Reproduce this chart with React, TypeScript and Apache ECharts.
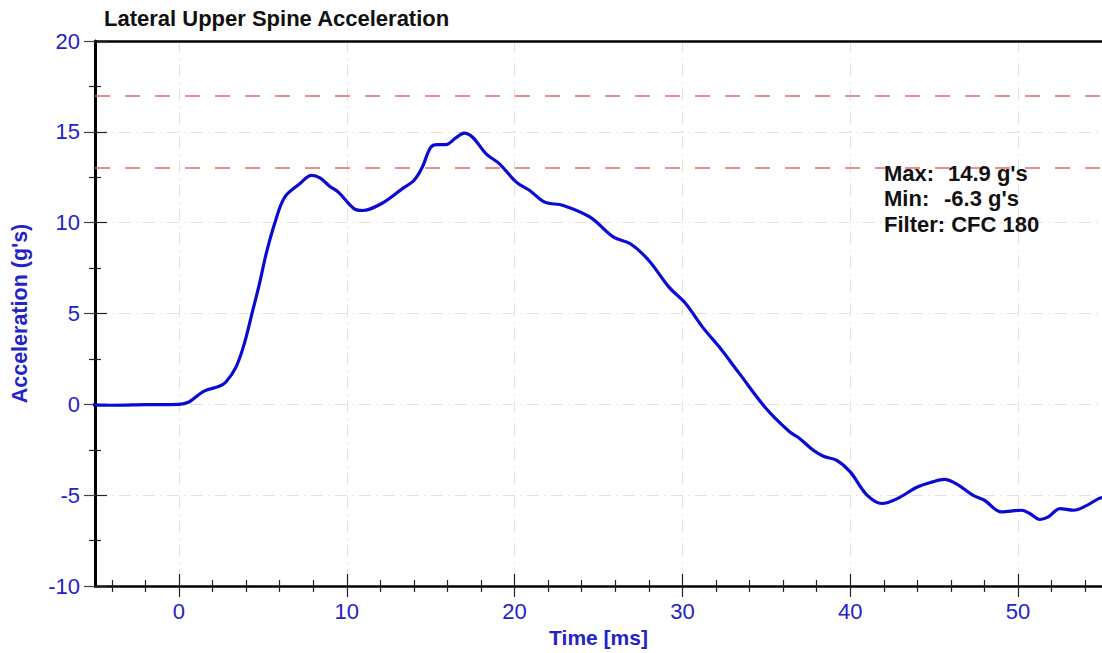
import React, { useEffect, useRef } from "react";
import * as echarts from "echarts";

const timeMs = [
  -5.3, -4, -2, 0, 0.6, 1.5, 2.4, 2.8, 3.4, 3.9, 4.4, 4.8, 5.2, 5.7, 6.3, 7.2, 7.9, 8.4, 9.0, 9.5,
  10.45, 10.95, 12.05, 13.3, 14.0, 14.5, 15.0, 15.4, 15.9, 16.5, 17.0, 17.5, 18.3, 19.1, 20.1, 20.9,
  21.8, 22.9, 24.5, 25.9, 26.9, 28.0, 29.2, 30.2, 31.2, 32.2, 33.4, 35.0, 36.4, 37.0, 37.8, 38.4,
  39.2, 40.0, 41.0, 41.9, 42.8, 44.0, 44.9, 45.6, 46.3, 47.3, 48.0, 49.0, 50.2, 50.7, 51.3, 51.8,
  52.5, 53.3, 54.1, 54.8, 55.2,
];
const accel = [
  -0.03, -0.05, -0.02, 0.0, 0.13, 0.73, 0.99, 1.23, 2.05, 3.35, 5.17, 6.64, 8.29, 9.94, 11.4, 12.14,
  12.6, 12.47, 11.99, 11.68, 10.76, 10.67, 11.04, 11.86, 12.32, 13.05, 14.15, 14.3, 14.3, 14.67,
  14.93, 14.7, 13.79, 13.24, 12.23, 11.77, 11.13, 10.95, 10.3, 9.2, 8.84, 7.92, 6.45, 5.54, 4.25,
  3.15, 1.69, -0.24, -1.52, -1.89, -2.53, -2.86, -3.08, -3.72, -5.0, -5.46, -5.19, -4.55, -4.27,
  -4.13, -4.36, -5.0, -5.28, -5.92, -5.83, -6.01, -6.34, -6.2, -5.74, -5.83, -5.56, -5.19, -5.1,
];
const xMajorTicks = [0, 10, 20, 30, 40, 50];
const xMinorTicks = [-4, -2, 2, 4, 6, 8, 12, 14, 16, 18, 22, 24, 26, 28, 32, 34, 36, 38, 42, 44, 46, 48, 52, 54];
const limitLines = [17, 13];
const titleText = "Lateral Upper Spine Acceleration";
const statsLabels = ["Max:", "Min:", "Filter: CFC 180"];
const statsValues = ["14.9 g's", "-6.3 g's", ""];

const FONT = "'Liberation Sans', Arial, sans-serif";
const BLUE = "#2323c8";
const X_MIN = -5;
const X_MAX = 55;

export default function App() {
  const ref = useRef<HTMLDivElement>(null);
  useEffect(() => {
    if (!ref.current) return;
    const chart = echarts.init(ref.current, null, { renderer: "svg" });
    const grid = { left: 95, top: 41, width: 1008, height: 545 };
    const baseX = {
      type: "value",
      min: X_MIN,
      max: X_MAX,
      position: "bottom",
      gridIndex: 0,
    };
    const hidden = {
      axisLine: { show: false, onZero: false },
      axisLabel: { show: false },
      splitLine: { show: false },
    };
    const tickStyle = { color: "#222", width: 1.2 };
    const option: any = {
      animation: false,
      backgroundColor: "#ffffff",
      textStyle: { fontFamily: FONT },
      title: {
        text: titleText,
        left: 99,
        top: 2,
        textStyle: { fontFamily: FONT, fontSize: 22, fontWeight: "bold", color: "#111111" },
      },
      grid,
      xAxis: [
        {
          ...baseX,
          name: "Time [ms]",
          nameLocation: "middle",
          nameGap: 40,
          nameTextStyle: { color: BLUE, fontSize: 21, fontWeight: "bold", fontFamily: FONT },
          axisLine: { show: true, onZero: false, lineStyle: { color: "#000", width: 2.5 } },
          axisTick: { show: true, inside: false, length: 11, customValues: xMajorTicks, lineStyle: tickStyle },
          axisLabel: { show: true, customValues: xMajorTicks, color: BLUE, fontSize: 22, margin: 14, fontFamily: FONT },
          splitLine: { show: true, lineStyle: { color: "#e2e2e2", width: 1, type: [12, 5, 2, 5] } },
        },
        {
          ...baseX,
          ...hidden,
          axisTick: { show: true, inside: true, length: 12, customValues: xMajorTicks, lineStyle: tickStyle },
        },
        {
          ...baseX,
          ...hidden,
          axisTick: { show: true, inside: false, length: 6, customValues: xMinorTicks, lineStyle: tickStyle },
        },
        {
          ...baseX,
          ...hidden,
          axisTick: { show: true, inside: true, length: 6, customValues: xMinorTicks, lineStyle: tickStyle },
        },
        {
          ...baseX,
          position: "top",
          axisLine: { show: true, onZero: false, lineStyle: { color: "#000", width: 2.5 } },
          axisTick: { show: false },
          axisLabel: { show: false },
          splitLine: { show: false },
        },
      ],
      yAxis: [
        {
          type: "value",
          min: -10,
          max: 20,
          interval: 5,
          position: "left",
          name: "Acceleration (g's)",
          nameLocation: "middle",
          nameGap: 64,
          nameTextStyle: { color: BLUE, fontSize: 21.5, fontWeight: "bold", fontFamily: FONT },
          axisLine: { show: true, onZero: false, lineStyle: { color: "#000", width: 3 } },
          axisTick: { show: true, inside: false, length: 11, lineStyle: { color: "#444", width: 1.2 } },
          minorTick: { show: true, splitNumber: 2, length: 6, lineStyle: tickStyle },
          axisLabel: { color: BLUE, fontSize: 22, margin: 15, fontFamily: FONT },
          splitLine: { show: true, lineStyle: { color: "#e2e2e2", width: 1, type: [12, 5, 2, 5] } },
        },
        {
          type: "value",
          min: -10,
          max: 20,
          interval: 5,
          position: "left",
          offset: 0,
          axisLine: { show: false, onZero: false },
          axisLabel: { show: false },
          splitLine: { show: false },
          axisTick: { show: true, inside: true, length: 12, lineStyle: tickStyle },
          minorTick: { show: true, splitNumber: 2, length: 6, lineStyle: tickStyle },
        },
      ],
      series: [
        {
          type: "line",
          xAxisIndex: 0,
          yAxisIndex: 0,
          data: timeMs.map((t, i) => [t, accel[i]]),
          smooth: 0.35,
          showSymbol: false,
          clip: true,
          lineStyle: { color: "#0a0ad2", width: 3.2 },
          markLine: {
            silent: true,
            symbol: ["none", "none"],
            label: { show: false },
            lineStyle: { color: "#e66a6a", width: 1.5, type: [15, 15] },
            data: limitLines.map((v) => ({ yAxis: v })),
          },
          z: 5,
        },
      ],
      graphic: [
        ...statsLabels.map((s, i) => ({
          type: "text",
          left: 884,
          top: 162 + i * 25.5,
          style: { text: s, font: `bold 22px ${FONT}`, fill: "#111111" },
          z: 10,
        })),
        ...statsValues.map((s, i) => ({
          type: "text",
          left: i === 0 ? 948 : 944,
          top: 162 + i * 25.5,
          style: { text: s, font: `bold 22px ${FONT}`, fill: "#111111" },
          z: 10,
        })),
      ],
    };
    chart.setOption(option);
    return () => chart.dispose();
  }, []);
  return (
    <div
      ref={ref}
      style={{ position: "absolute", left: 0, top: 0, width: 1102, height: 653, background: "#fff" }}
    />
  );
}
